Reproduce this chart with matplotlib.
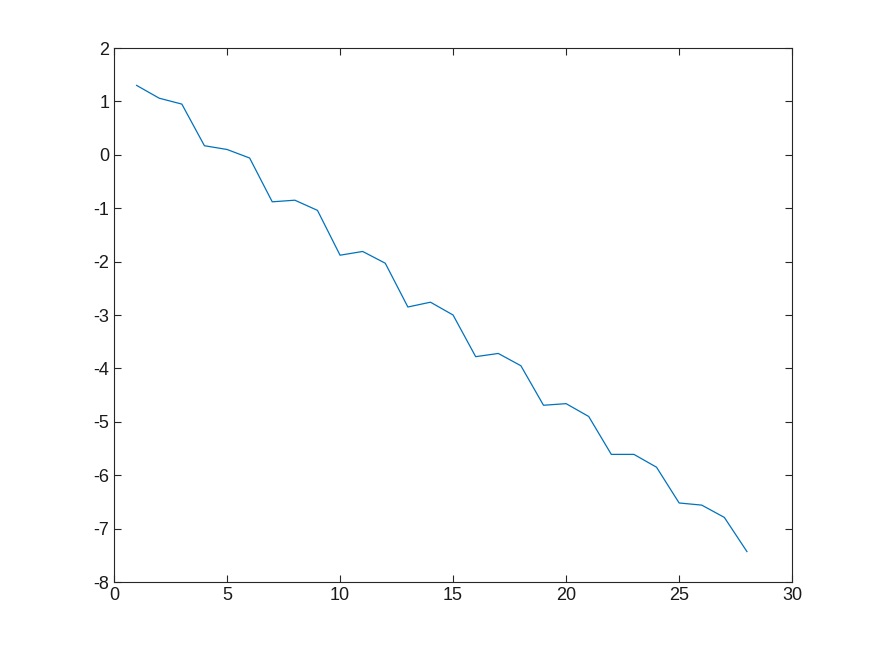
import numpy as np
import matplotlib.pyplot as plt

plt.rcParams['font.family'] = ['Liberation Sans', 'DejaVu Sans']
plt.rcParams['axes.unicode_minus'] = False  # 负号用连字符 '-'

# 数据
x = np.arange(1, 29)
y = [1.30, 1.06, 0.95, 0.17, 0.10, -0.06, -0.88, -0.85, -1.04, -1.88,
     -1.81, -2.03, -2.85, -2.76, -3.00, -3.78, -3.72, -3.95, -4.69, -4.66,
     -4.90, -5.61, -5.61, -5.85, -6.52, -6.56, -6.79, -7.43]

fig = plt.figure(figsize=(8.75, 6.56), dpi=100)
ax = fig.add_axes([0.1303, 0.1128, 0.775, 0.814])
ax.plot(x, y, color='#0072BD', lw=0.9)

ax.set_xlim(0, 30)
ax.set_ylim(-8, 2)
ax.set_xticks(np.arange(0, 31, 5))
ax.set_yticks(np.arange(-8, 3, 1))
ax.tick_params(direction='in', top=True, right=True, labelsize=13,
               length=5, width=0.8, colors='#262626', labelcolor='#1a1a1a')
for s in ax.spines.values():
    s.set_color('#262626')
    s.set_linewidth(0.8)

fig.savefig('out.png', dpi=100)
